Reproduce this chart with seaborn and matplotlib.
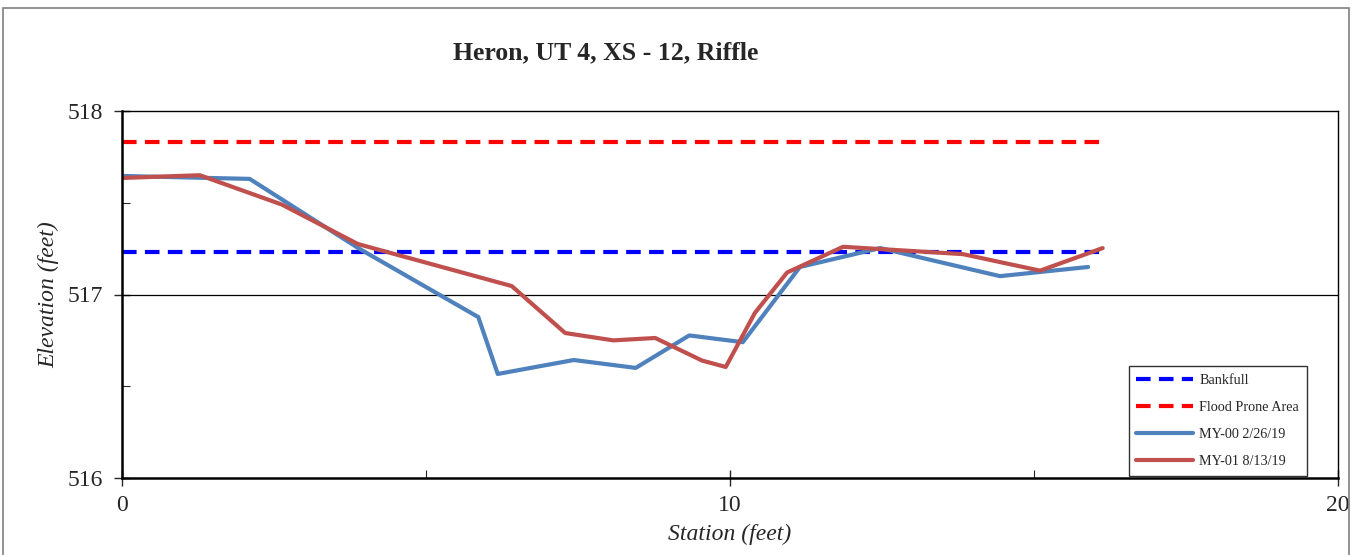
import matplotlib
matplotlib.use("Agg")
import matplotlib.pyplot as plt
import seaborn as sns
import pandas as pd
from matplotlib.patches import Rectangle
from matplotlib.ticker import MultipleLocator

title = "Heron, UT 4, XS - 12, Riffle"
xlabel = "Station (feet)"
ylabel = "Elevation (feet)"

my00_x = [0.0, 2.1, 3.9, 5.86, 6.18, 7.43, 8.45, 9.33, 10.21, 11.15, 12.47, 14.44, 15.89]
my00_y = [517.646, 517.63, 517.25, 516.877, 516.567, 516.643, 516.60, 516.777, 516.74, 517.15, 517.253, 517.10, 517.15]

my01_x = [0.0, 1.28, 2.63, 3.88, 6.41, 7.29, 8.08, 8.77, 9.54, 9.93, 10.41, 10.94, 11.86, 13.83, 15.10, 16.13]
my01_y = [517.635, 517.65, 517.49, 517.275, 517.046, 516.79, 516.75, 516.763, 516.64, 516.605, 516.90, 517.12, 517.26, 517.22, 517.13, 517.253]

line_x = [0.0, 16.15]
bankfull_y = 517.232
flood_y = 517.83

sns.set_style("white")
plt.rcParams['font.family'] = ['Liberation Serif', 'DejaVu Serif']

fig = plt.figure(figsize=(13.53, 5.55), dpi=100)
ax = fig.add_axes([122/1353, 1-478/555, (1338-122)/1353, (478-111)/555])

df_bf = pd.DataFrame({"x": line_x, "y": [bankfull_y]*2})
df_fp = pd.DataFrame({"x": line_x, "y": [flood_y]*2})
df0 = pd.DataFrame({"x": my00_x, "y": my00_y})
df1 = pd.DataFrame({"x": my01_x, "y": my01_y})

ax.axhline(517, color="black", lw=0.9, zorder=1)
sns.lineplot(data=df_bf, x="x", y="y", ax=ax, color="#0000FF", lw=3.0,
             linestyle=(0, (3.5, 2)), label="Bankfull", sort=False)
sns.lineplot(data=df_fp, x="x", y="y", ax=ax, color="#FF0000", lw=3.0,
             linestyle=(0, (3.5, 2)), label="Flood Prone Area", sort=False)
sns.lineplot(data=df0, x="x", y="y", ax=ax, color="#4F81BD", lw=3.0,
             label="MY-00 2/26/19", sort=False)
sns.lineplot(data=df1, x="x", y="y", ax=ax, color="#C0504D", lw=3.0,
             label="MY-01 8/13/19", sort=False)

ax.set_xlim(0, 20)
ax.set_ylim(516, 518)
ax.xaxis.set_major_locator(MultipleLocator(10))
ax.xaxis.set_minor_locator(MultipleLocator(5))
ax.yaxis.set_major_locator(MultipleLocator(1))
ax.yaxis.set_minor_locator(MultipleLocator(0.5))
ax.tick_params(axis='x', which='major', direction='inout', length=12, width=1, labelsize=17, pad=6, bottom=True)
ax.tick_params(axis='x', which='minor', direction='in', length=6, width=0.8, bottom=True)
ax.tick_params(axis='y', which='major', direction='inout', length=11, width=1, labelsize=17, pad=8.5, left=True)
ax.tick_params(axis='y', which='minor', direction='in', length=6, width=0.8, left=True)
for s in ax.spines.values():
    s.set_color("black")
    s.set_linewidth(1.0)
ax.spines['left'].set_linewidth(1.8)
ax.spines['bottom'].set_linewidth(1.8)

ax.set_xlabel(xlabel, fontsize=17, style='italic', labelpad=6)
ax.set_ylabel(ylabel, fontsize=17, style='italic', labelpad=6)
fig.text(606/1353, 1-53/555, title, fontsize=18.5, fontweight='bold', ha='center', va='center')

leg = ax.legend(loc='lower right', bbox_to_anchor=((1307-122)/(1338-122), 2/367),
                borderaxespad=0, fontsize=10.2, frameon=True, fancybox=False, edgecolor='black',
                borderpad=0.55, labelspacing=1.0, handlelength=4.0, handletextpad=0.45)
leg.get_frame().set_linewidth(1.0)

fig.patches.append(Rectangle((3/1353, -0.01), (1349-3)/1353, 1-8/555+0.01,
                             transform=fig.transFigure, fill=False, edgecolor='#7f7f7f', lw=1.2))

fig.savefig("out.png", dpi=100)
